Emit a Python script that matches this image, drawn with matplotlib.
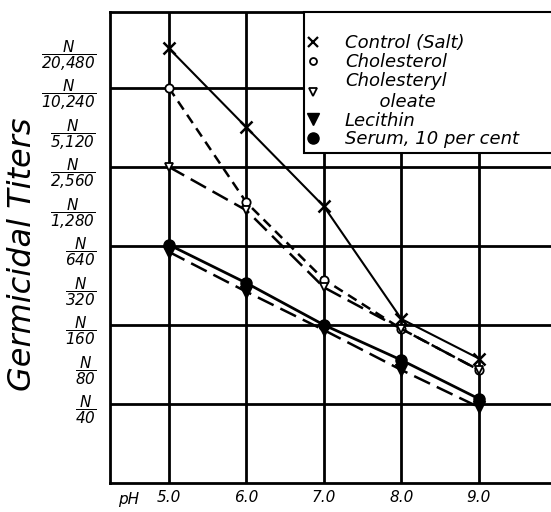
import matplotlib
matplotlib.use("Agg")
import matplotlib.pyplot as plt
from matplotlib.lines import Line2D
from matplotlib.patches import Rectangle

plt.rcParams['mathtext.fontset'] = 'custom'
plt.rcParams['mathtext.it'] = 'DejaVu Sans:italic'
plt.rcParams['mathtext.rm'] = 'DejaVu Sans:italic'

# pH values
ph = [5.0, 6.0, 7.0, 8.0, 9.0]
# titer levels in doublings above N/40 (0 = N/40, 9 = N/20,480)
control = [9.0, 7.0, 5.0, 2.15, 1.15]
cholesterol = [8.0, 5.1, 3.15, 1.9, 0.86]
oleate = [6.0, 4.9, 2.95, 1.9, 0.86]
lecithin = [3.85, 2.84, 1.87, 0.86, -0.08]
serum = [4.03, 3.06, 2.0, 1.11, 0.13]

tick_levels = [0, 1, 2, 3, 4, 5, 6, 7, 8, 9]
tick_denoms = ["40", "80", "160", "320", "640", "1,280", "2,560", "5,120", "10,240", "20,480"]
x_ticks = [5.0, 6.0, 7.0, 8.0, 9.0]
x_labels = ["5.0", "6.0", "7.0", "8.0", "9.0"]

legend_labels = ["Control (Salt)", "Cholesterol", "Cholesteryl\n      oleate",
                 "Lecithin", "Serum, 10 per cent"]

fig = plt.figure(figsize=(5.51, 5.12), dpi=100)
ax = fig.add_axes([110/551, 1-483/512, 441/551, (483-12)/512])
ax.set_xlim(4.24, 9.93)
ax.set_ylim(-2.0, 9.92)

ax.spines['right'].set_visible(False)
for s in ['left', 'top', 'bottom']:
    ax.spines[s].set_linewidth(2)

# grid
for x in x_ticks:
    ax.axvline(x, color='black', lw=2, zorder=1)
for y in [0, 2, 4, 6, 8]:
    ax.axhline(y, color='black', lw=2, zorder=1)

ax.plot(ph, control, color='black', lw=1.5, marker='x', ms=8, mew=1.8, zorder=3)
ax.plot(ph, cholesterol, color='black', lw=1.8, ls=(0, (4, 2.5)), marker='o', ms=6,
        mfc='white', mec='black', mew=1.3, zorder=3)
ax.plot(ph, oleate, color='black', lw=1.8, ls=(0, (7, 3)), marker='v', ms=6,
        mfc='white', mec='black', mew=1.3, zorder=3)
ax.plot(ph, lecithin, color='black', lw=1.8, ls=(0, (7, 3)), marker='v', ms=8,
        mfc='black', mec='black', zorder=3)
ax.plot(ph, serum, color='black', lw=2.0, marker='o', ms=8,
        mfc='black', mec='black', zorder=3)

ax.set_yticks(tick_levels)
ax.set_yticklabels([r'$\dfrac{N}{%s}$' % d.replace(',', '{,}') for d in tick_denoms],
                   fontsize=11)
ax.tick_params(axis='y', length=0, pad=10)
ax.set_xticks(x_ticks)
ax.set_xticklabels(x_labels, fontsize=11, style='italic')
ax.tick_params(axis='x', length=0, pad=5)

ax.text(4.48, -2.42, "pH", fontsize=11, style='italic', ha='center', va='center')

fig.text(0.04, 0.503, "Germicidal Titers", rotation=90, fontsize=23, style='italic',
         ha='center', va='center')

# legend box
x0 = (304 - 110) / 441
y0 = (483 - 153) / 471
box = Rectangle((x0, y0), 1.05 - x0, 1.0 - y0, transform=ax.transAxes,
                facecolor='white', edgecolor='black', lw=1.5, zorder=5, clip_on=False)
ax.add_patch(box)

handles = [
    Line2D([], [], ls='none', marker='x', ms=7, mew=1.6, color='black'),
    Line2D([], [], ls='none', marker='o', ms=5, mfc='white', mec='black', mew=1.3),
    Line2D([], [], ls='none', marker='v', ms=6, mfc='white', mec='black', mew=1.3),
    Line2D([], [], ls='none', marker='v', ms=8, mfc='black', mec='black'),
    Line2D([], [], ls='none', marker='o', ms=8, mfc='black', mec='black'),
]
leg = ax.legend(handles, legend_labels, loc='upper left',
                bbox_to_anchor=((308 - 110) / 441, (483 - 34) / 471),
                borderaxespad=0, frameon=False, handlelength=0.6,
                handletextpad=1.45, labelspacing=0.05, borderpad=0.0,
                prop={'size': 13, 'style': 'italic'})
leg.set_zorder(6)

fig.savefig("out.png", dpi=100)
